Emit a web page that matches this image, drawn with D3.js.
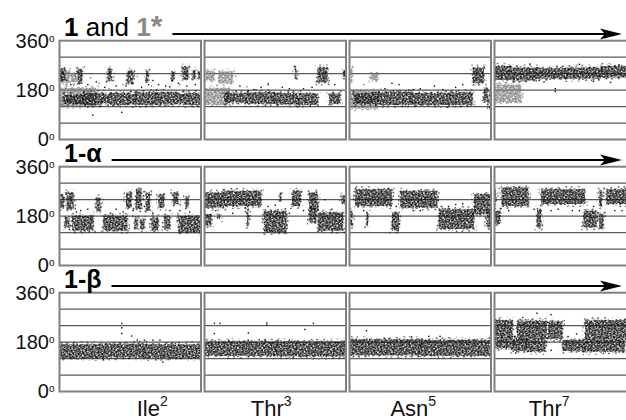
<!DOCTYPE html>
<html>
<head>
<meta charset="utf-8">
<script src="https://cdn.jsdelivr.net/npm/d3@7"></script>
<style>
  html, body { margin: 0; padding: 0; background: #fff; }
  svg { display: block; font-family: "Liberation Sans", Arial, Helvetica, sans-serif; }
</style>
</head>
<body>
<div id="chart"></div>
<script>
// residues along the bottom, one column each
const residues = ['Ile', 'Thr', 'Asn', 'Thr'];
const residueNums = ['2', '3', '5', '7'];
const angleTicks = [0, 180, 360];
const gridAngles = [60, 120, 180, 240, 300];
const timeDomain = [0, 100];

// dense clusters of sampled angles: [tStart, tEnd, lowDeg, highDeg], per residue
const bandsOne = [
    [[0, 4, 215, 258], [13, 16, 205, 258], [34, 37, 212, 258], [48, 52, 205, 250], [61, 63, 212, 250],
     [79, 81, 212, 246], [87, 91, 218, 265], [94, 96, 220, 252], [98, 100, 225, 250],
     [3, 17, 130, 162], [17, 30, 126, 170], [30, 36, 132, 166], [36, 50, 126, 170], [50, 53, 132, 165],
     [53, 69, 126, 172], [69, 84, 128, 172], [84, 88, 134, 166], [88, 100, 126, 170]],
    [[64, 65, 222, 262], [80, 87, 208, 262], [98, 100, 228, 252],
     [14, 30, 135, 170], [30, 50, 130, 172], [50, 66, 128, 170], [66, 80, 126, 168], [88, 96, 130, 168]],
    [[87, 95, 205, 262],
     [3, 20, 130, 168], [20, 45, 126, 174], [45, 70, 126, 170], [70, 87, 126, 172], [95, 98, 138, 185], [99, 100, 110, 170]],
    [[0, 12, 217, 268], [12, 30, 215, 262], [30, 50, 222, 260], [50, 75, 222, 262], [75, 100, 226, 268]]
];
const bandsOneStar = [
    [[0, 26, 122, 188], [1, 7, 205, 250], [8, 13, 210, 240]],
    [[0, 18, 126, 187], [1, 7, 215, 250], [10, 20, 205, 248]],
    [[0, 20, 113, 178], [1, 2, 210, 260], [15, 20, 215, 240]],
    [[0, 19, 135, 200]]
];
const bandsAlpha = [
    [[0, 3, 211, 260], [5, 10, 205, 266], [26, 29, 199, 248], [47, 51, 211, 266], [54, 58, 205, 278],
     [61, 64, 199, 266], [70, 74, 211, 260], [80, 84, 224, 266], [89, 91, 211, 248],
     [4, 7, 139, 175], [9, 24, 127, 181], [31, 48, 127, 181], [53, 55, 133, 175], [57, 60, 133, 169],
     [65, 70, 127, 175], [74, 78, 133, 181], [84, 100, 121, 181]],
    [[0, 14, 211, 266], [14, 40, 217, 272], [53, 54, 236, 266], [62, 68, 217, 272], [74, 80, 205, 266], [97, 100, 224, 254],
     [0, 5, 145, 187], [10, 11, 169, 187], [30, 31, 145, 211], [42, 58, 121, 199], [74, 79, 157, 211], [80, 98, 127, 193]],
    [[4, 30, 217, 278], [36, 62, 211, 272], [88, 100, 187, 260],
     [0, 2, 145, 199], [12, 13, 145, 193], [30, 35, 127, 193], [63, 88, 133, 205], [97, 100, 139, 193]],
    [[0, 1, 229, 278], [5, 24, 217, 284], [33, 64, 224, 278], [74, 76, 217, 272], [79, 100, 224, 278],
     [0, 4, 151, 199], [30, 33, 139, 205], [63, 72, 139, 199], [74, 77, 133, 187]]
];
const bandsBeta = [
    [[0, 30, 122, 172], [30, 60, 124, 174], [60, 100, 122, 172]],
    [[0, 50, 130, 182], [50, 100, 128, 182]],
    [[0, 50, 132, 190], [50, 100, 130, 188]],
    [[0, 13, 200, 260], [16, 37, 192, 258], [38, 48, 192, 255], [64, 92, 192, 260], [92, 100, 196, 255],
     [0, 13, 158, 198], [13, 23, 148, 192], [23, 36, 145, 190], [48, 63, 148, 188], [63, 92, 145, 190]]
];

// isolated samples: [t, deg]
const dotsOne = [
    [[23.5, 89], [44, 99], [20, 200], [40, 195], [58, 190], [70, 200], [75, 195], [66, 215],
     [8, 200], [26, 210], [32, 190], [47, 195], [52, 205], [63, 200], [78, 192], [84, 205], [90, 195], [96, 200]],
    [[25, 195], [40, 190], [45, 200], [55, 190], [64, 266], [70, 185], [92, 200], [35, 182], [60, 185], [76, 190]],
    [[30, 205], [35, 200], [50, 185], [60, 195], [75, 190], [80, 200], [25, 185], [42, 180], [66, 182]],
    [[43, 185], [43, 175], [25, 275], [60, 274], [88, 272], [35, 210], [70, 212], [82, 208]]
];
const dotsOneStar = [
    [[5, 195], [10, 198], [22, 225], [28, 205], [45, 200], [55, 230], [65, 195], [85, 200], [92, 240], [35, 185], [72, 182]],
    [[22, 230], [30, 192], [45, 205]],
    [[10, 200], [18, 230]],
    []
];
const dotsAlpha = [
    [[15, 200], [40, 205], [60, 215], [85, 200], [68, 150], [12, 195], [20, 205], [36, 190], [45, 195], [52, 200],
     [66, 190], [78, 200], [92, 195]],
    [[31, 180], [50, 220], [85, 240], [8, 200], [20, 190], [45, 215], [60, 190], [70, 200], [90, 205]],
    [[45, 200], [70, 215], [75, 222], [10, 200], [33, 215], [50, 200], [65, 215], [80, 225], [92, 200]],
    [[40, 200], [55, 200], [85, 200], [10, 200], [28, 205], [45, 205], [60, 200], [70, 215], [90, 200]]
];
const dotsBeta = [
    [[44, 248], [44, 232], [44, 211], [51, 202], [55, 187], [60, 187], [66, 187], [71, 187], [73, 107]],
    [[0, 254], [0, 226], [7, 248], [11, 248], [7, 211], [31, 213], [44, 250], [44, 242], [71, 226], [77, 248],
     [17, 187], [31, 187], [43, 187], [52, 187], [60, 187]],
    [[12, 221], [44, 199], [56, 201], [64, 201]],
    [[30, 285], [40, 280], [20, 270], [52, 200], [58, 210], [15, 140], [40, 150]]
];

const width = 626;
const height = 420;
const panelLeft = 59.5;
const panelStep = 145;
const panelWidth = 141.5;
const rowTop = 40.7;
const rowStep = 126;
const panelHeight = 98.8;
const labelShift = [22, -4, -7, -16];

const rows = [
    { black: bandsOne, gray: bandsOneStar, blackDots: dotsOne, grayDots: dotsOneStar },
    { black: bandsAlpha, gray: null, blackDots: dotsAlpha, grayDots: null },
    { black: bandsBeta, gray: null, blackDots: dotsBeta, grayDots: null }
];

const svg = d3.select('#chart').append('svg')
    .attr('width', width)
    .attr('height', height)
    .attr('viewBox', [0, 0, width, height]);

// stipple textures for the scatter clouds; tilted layers so the grain looks less regular
const defs = svg.append('defs');
const denseA = [[0, 0], [2.6, 0.6], [4.4, 1.6], [1.2, 2.1], [3.3, 3.0], [5.1, 3.9], [0.4, 4.0], [2.2, 4.3]];
const denseB = [[0.7, 0.4], [4.1, 1.1], [2.3, 2.9], [5.6, 4.2], [1.1, 5.3], [3.8, 5.9]];
const sparseA = [[0.5, 0.5], [4.6, 2.3], [2.1, 4.8], [6.4, 5.6]];
const sparseB = [[1.5, 1.0], [6.2, 3.9], [3.4, 7.1]];
const stipples = [
    { id: 'dk', w: 6, h: 5, rot: 12, color: '#111', dots: denseA },
    { id: 'dk2', w: 7, h: 7, rot: -23, color: '#111', dots: denseB },
    { id: 'sp', w: 8, h: 7, rot: 12, color: '#111', dots: sparseA },
    { id: 'sp2', w: 9, h: 9, rot: -31, color: '#111', dots: sparseB },
    { id: 'dkG', w: 6, h: 5, rot: 12, color: '#808080', dots: denseA },
    { id: 'dk2G', w: 7, h: 7, rot: -23, color: '#808080', dots: denseB },
    { id: 'spG', w: 8, h: 7, rot: 12, color: '#808080', dots: sparseA },
    { id: 'sp2G', w: 9, h: 9, rot: -31, color: '#808080', dots: sparseB }
];
stipples.forEach(p => {
    defs.append('pattern')
        .attr('id', p.id)
        .attr('patternUnits', 'userSpaceOnUse')
        .attr('width', p.w)
        .attr('height', p.h)
        .attr('patternTransform', 'rotate(' + p.rot + ')')
        .selectAll('rect')
        .data(p.dots)
        .join('rect')
        .attr('x', d => d[0])
        .attr('y', d => d[1])
        .attr('width', 1.4)
        .attr('height', 1.4)
        .attr('fill', p.color);
});

rows.forEach((row, r) => {
    const top = rowTop + r * rowStep;
    const y = d3.scaleLinear().domain([0, 360]).range([top + panelHeight, top]);

    residues.forEach((res, c) => {
        const x0 = panelLeft + c * panelStep;
        const x = d3.scaleLinear().domain(timeDomain).range([x0, x0 + panelWidth]);
        const clipId = 'clip' + r + c;
        defs.append('clipPath').attr('id', clipId)
            .append('rect')
            .attr('x', x0).attr('y', top)
            .attr('width', panelWidth).attr('height', panelHeight);

        const g = svg.append('g');

        g.append('g')
            .selectAll('line')
            .data(gridAngles)
            .join('line')
            .attr('x1', x0)
            .attr('x2', x0 + panelWidth)
            .attr('y1', d => y(d))
            .attr('y2', d => y(d))
            .attr('stroke', '#5a5a5a')
            .attr('stroke-width', 1.2);

        const cloud = g.append('g').attr('clip-path', 'url(#' + clipId + ')');

        // each cluster: wide faint halo, tighter sparse ring, dense core
        const layers = suffix => [
            { dt: 1.8, dd: 11, fill: 'sp2' + suffix },
            { dt: 0.8, dd: 5, fill: 'sp' + suffix },
            { dt: 0, dd: 0, fill: 'dk' + suffix },
            { dt: 0, dd: 0, fill: 'dk2' + suffix }
        ];
        const drawBands = (bands, suffix) => {
            layers(suffix).forEach(L => {
                cloud.append('g')
                    .selectAll('rect')
                    .data(bands)
                    .join('rect')
                    .attr('x', d => x(d[0] - L.dt))
                    .attr('width', d => Math.max(1.5, x(d[1] + L.dt) - x(d[0] - L.dt)))
                    .attr('y', d => y(d[3] + L.dd))
                    .attr('height', d => y(d[2] - L.dd) - y(d[3] + L.dd))
                    .attr('fill', 'url(#' + L.fill + ')');
            });
        };
        const drawDots = (dots, color) => {
            cloud.append('g')
                .selectAll('rect')
                .data(dots)
                .join('rect')
                .attr('x', d => x(d[0]) - 0.7)
                .attr('y', d => y(d[1]) - 0.7)
                .attr('width', 1.4)
                .attr('height', 1.4)
                .attr('fill', color);
        };

        if (row.gray) {
            drawBands(row.gray[c], 'G');
            drawDots(row.grayDots[c], '#808080');
        }
        drawBands(row.black[c], '');
        drawDots(row.blackDots[c], '#111');

        g.append('rect')
            .attr('x', x0)
            .attr('y', top)
            .attr('width', panelWidth)
            .attr('height', panelHeight)
            .attr('fill', 'none')
            .attr('stroke', '#808080')
            .attr('stroke-width', 2);
    });

    // angle labels
    const axis = svg.append('g')
        .attr('transform', 'translate(' + panelLeft + ',0)')
        .call(d3.axisLeft(y).tickValues(angleTicks).tickSize(0).tickPadding(5).tickFormat(d => d));
    axis.select('.domain').remove();
    axis.selectAll('text')
        .attr('font-size', 20)
        .attr('fill', '#111')
        .attr('font-family', null)
        .append('tspan')
        .attr('font-size', 10)
        .attr('dy', '-0.6em')
        .text('o');

    // row title and time arrow
    const title = svg.append('text')
        .attr('x', 64)
        .attr('y', top - 4.5)
        .attr('font-size', r === 0 ? 26 : 25)
        .attr('fill', '#000');
    if (r === 0) {
        title.append('tspan').attr('font-weight', 'bold').text('1');
        title.append('tspan').text(' and ');
        title.append('tspan').attr('font-weight', 'bold').attr('fill', '#8a8a8a').text('1');
        title.append('tspan').attr('font-weight', 'bold').attr('fill', '#8a8a8a').attr('font-size', 30).text('*');
    } else {
        title.attr('font-weight', 'bold').text(r === 1 ? '1-α' : '1-β');
    }
    const titleEnd = 64 + title.node().getComputedTextLength();
    const ay = top - 6.8;
    const tip = 622;
    svg.append('line')
        .attr('x1', titleEnd + 10)
        .attr('x2', tip - 14)
        .attr('y1', ay)
        .attr('y2', ay)
        .attr('stroke', '#000')
        .attr('stroke-width', 2);
    svg.append('path')
        .attr('d', 'M' + tip + ',' + ay + 'L' + (tip - 22) + ',' + (ay - 5.5) + 'L' + (tip - 17) + ',' + ay + 'L' + (tip - 22) + ',' + (ay + 5.5) + 'Z')
        .attr('fill', '#000');
});

// residue names under the columns
const names = svg.append('g')
    .selectAll('text')
    .data(residues)
    .join('text')
    .attr('x', (d, i) => panelLeft + i * panelStep + panelWidth / 2 + labelShift[i])
    .attr('y', 416)
    .attr('text-anchor', 'middle')
    .attr('font-size', 22)
    .attr('fill', '#111')
    .text(d => d);
names.append('tspan')
    .attr('font-size', 14)
    .attr('dy', '-0.7em')
    .text((d, i) => residueNums[i]);
</script>
</body>
</html>
